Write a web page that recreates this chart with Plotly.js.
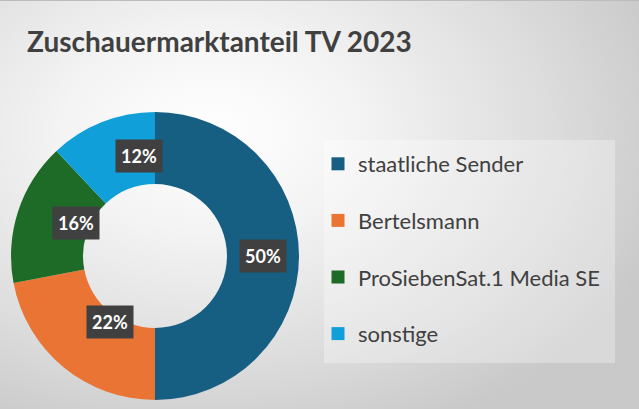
<!DOCTYPE html>
<html>
<head>
<meta charset="utf-8">
<script src="https://cdn.plot.ly/plotly-3.0.1.min.js"></script>
<style>
html,body{margin:0;padding:0;}
#chart{width:639px;height:409px;box-sizing:border-box;border-top:1px solid #bcbcbc;
background:radial-gradient(ellipse 75% 80% at 33% 32%, #ffffff 0%, #f4f4f4 30%, #dddddd 70%, #c9c9c9 100%);}
</style>
</head>
<body>
<div id="chart"></div>
<script>
const chartTitle = "Zuschauermarktanteil TV 2023";
const categories = ["staatliche Sender", "Bertelsmann", "ProSiebenSat.1 Media SE", "sonstige"];
const shares = [50, 22, 16, 12];
const colors = ["#165E82", "#EA7433", "#1D6B26", "#119FD9"];

const W = 639, H = 409;
// pie geometry (pixels)
const cx = 155, cy = 255, R = 144, hole = 0.5;
const dom = {x: [(cx - R) / W, (cx + R) / W], y: [1 - (cy + R) / H, 1 - (cy - R) / H]};

const total = shares.reduce((a, b) => a + b, 0);
const traces = [{
  type: "pie",
  labels: categories,
  values: shares,
  sort: false,
  direction: "clockwise",
  rotation: 0,
  hole: hole,
  domain: dom,
  marker: {colors: colors, line: {width: 0}},
  textinfo: "none",
  hoverinfo: "none",
  showlegend: false
}];
categories.forEach((c, i) => {
  traces.push({
    type: "scatter", mode: "markers", x: [null], y: [null],
    name: c, legendgroup: "g" + i, showlegend: true,
    marker: {symbol: "square", size: 13, color: colors[i]},
    hoverinfo: "none"
  });
});

// data labels at slice midpoints
const annotations = [];
let cum = 0;
const rMid = R * (1 + hole) / 2;
shares.forEach((v, i) => {
  const mid = (cum + v / 2) / total;
  cum += v;
  const a = mid * 2 * Math.PI;
  const px = cx + rMid * Math.sin(a);
  const py = cy - rMid * Math.cos(a);
  annotations.push({
    xref: "paper", yref: "paper", x: px / W, y: 1 - py / H,
    text: "<b>" + Math.round(v / total * 100) + "%</b>", showarrow: false,
    font: {family: "Lato, 'Open Sans', sans-serif", size: 18, color: "#ffffff"},
    bgcolor: "#404040", borderpad: 5
  });
});

const layout = {
  width: W, height: H,
  margin: {l: 0, r: 0, t: 0, b: 0},
  paper_bgcolor: "rgba(0,0,0,0)",
  plot_bgcolor: "rgba(0,0,0,0)",
  title: {
    text: "<b>" + chartTitle + "</b>",
    x: 27 / W, xanchor: "left", y: 1 - 41 / H, yanchor: "middle",
    font: {family: "Lato, 'Open Sans', sans-serif", size: 28, color: "#404040"}
  },
  xaxis: {visible: false}, yaxis: {visible: false},
  showlegend: true,
  legend: {
    x: 318 / W, xanchor: "left", y: 1 - 142 / H, yanchor: "top",
    bgcolor: "rgba(0,0,0,0)", traceorder: "grouped", tracegroupgap: 25,
    font: {family: "Lato, 'Open Sans', sans-serif", size: 22, color: "#404040"}
  },
  shapes: [{
    type: "rect", xref: "paper", yref: "paper", layer: "below",
    x0: 324 / W, x1: 615 / W, y0: 1 - 362 / H, y1: 1 - 139 / H,
    fillcolor: "rgba(255,255,255,0.3)", line: {width: 0}
  }],
  annotations: annotations
};

Plotly.newPlot("chart", traces, layout, {displayModeBar: false, staticPlot: true});
</script>
</body>
</html>
